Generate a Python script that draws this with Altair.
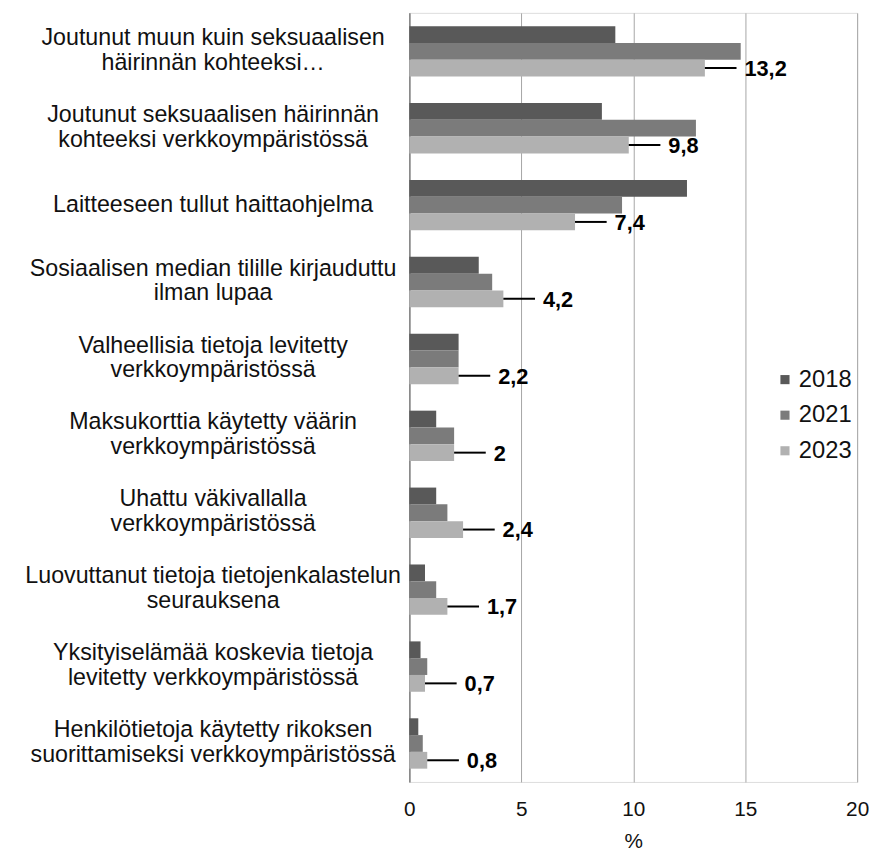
import altair as alt
import pandas as pd

categories = [
    "Joutunut muun kuin seksuaalisen|häirinnän kohteeksi…",
    "Joutunut seksuaalisen häirinnän|kohteeksi verkkoympäristössä",
    "Laitteeseen tullut haittaohjelma",
    "Sosiaalisen median tilille kirjauduttu|ilman lupaa",
    "Valheellisia tietoja levitetty|verkkoympäristössä",
    "Maksukorttia käytetty väärin|verkkoympäristössä",
    "Uhattu väkivallalla|verkkoympäristössä",
    "Luovuttanut tietoja tietojenkalastelun|seurauksena",
    "Yksityiselämää koskevia tietoja|levitetty verkkoympäristössä",
    "Henkilötietoja käytetty rikoksen|suorittamiseksi verkkoympäristössä",
]
years = ["2018", "2021", "2023"]
v2018 = [9.2, 8.6, 12.4, 3.1, 2.2, 1.2, 1.2, 0.7, 0.5, 0.4]
v2021 = [14.8, 12.8, 9.5, 3.7, 2.2, 2.0, 1.7, 1.2, 0.8, 0.6]
v2023 = [13.2, 9.8, 7.4, 4.2, 2.2, 2.0, 2.4, 1.7, 0.7, 0.8]
colors = ["#595959", "#7b7b7b", "#b1b1b1"]
x_ticks = [0, 5, 10, 15, 20]

rows = []
for yr, vals in zip(years, [v2018, v2021, v2023]):
    for c, v in zip(categories, vals):
        rows.append({"cat": c, "year": yr, "value": v,
                     "label": f"{v:g}".replace(".", ",")})
df = pd.DataFrame(rows)

FONT = "Liberation Sans"

y_enc = alt.Y("cat:N", sort=categories, title=None,
              scale=alt.Scale(paddingInner=0.345, paddingOuter=0.1725),
              axis=alt.Axis(labelExpr="split(datum.label, '|')", labelAlign="center",
                            labelBaseline="middle", labelPadding=199, labelFontSize=23.5,
                            labelLineHeight=25,
                            labelOffset=alt.condition("indexof(datum.label, '|') >= 0",
                                                      alt.value(-13.5), alt.value(0)),
                            labelFont=FONT, labelColor="#111111",
                            ticks=False, domain=True, domainColor="#868686",
                            domainWidth=1.5, grid=False, labelLimit=0))
yoff = alt.YOffset("year:N", sort=years)
x_enc = alt.X("value:Q", title="%",
              scale=alt.Scale(domain=[0, 20], nice=False),
              axis=alt.Axis(values=x_ticks, grid=True, gridColor="#a6a6a6", gridWidth=1,
                            domain=False, ticks=False, labelFontSize=21, labelFont=FONT,
                            labelFlush=False,
                            labelColor="#111111", labelPadding=17, titleFont=FONT,
                            titleFontSize=21, titleFontWeight="normal", titleColor="#111111",
                            titlePadding=11))

bars = alt.Chart(df).mark_bar().encode(
    y=y_enc, yOffset=yoff, x=x_enc,
    color=alt.Color("year:N", sort=years,
                    scale=alt.Scale(domain=years, range=colors),
                    legend=alt.Legend(title=None, orient="none", legendX=368, legendY=359,
                                      symbolType="square", symbolSize=85,
                                      symbolStrokeWidth=0, labelFontSize=24,
                                      labelFont=FONT, labelColor="#111111",
                                      rowPadding=12, labelOffset=2, padding=0)),
)

last = df[df["year"] == "2023"]
leaders = alt.Chart(last).mark_rule(color="#000000", strokeWidth=2, x2Offset=32).encode(
    y=alt.Y("cat:N", sort=categories), yOffset=yoff,
    x="value:Q", x2="value:Q",
)
labels = alt.Chart(last).mark_text(align="left", baseline="middle", dx=40, dy=1,
                                   fontSize=22, fontWeight="bold", font=FONT,
                                   color="#000000").encode(
    y=alt.Y("cat:N", sort=categories), yOffset=yoff,
    x="value:Q", text="label:N",
)

chart = alt.layer(bars, leaders, labels).properties(
    width=453, height=778,
    padding={"left": 16, "top": 0, "right": 0, "bottom": 0},
).configure_view(stroke=None).configure(background="white")

chart.save("out.html", embed_options={"renderer": "svg", "actions": False})
